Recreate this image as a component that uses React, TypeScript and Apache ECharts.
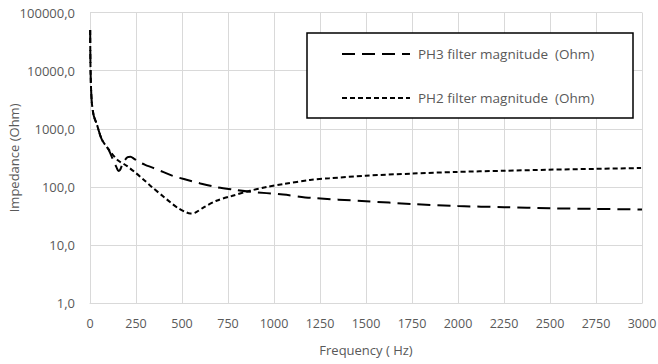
import React, { useEffect, useRef } from "react";
import * as echarts from "echarts";

const xTicks = [0, 250, 500, 750, 1000, 1250, 1500, 1750, 2000, 2250, 2500, 2750, 3000];
const yTicks = [1, 10, 100, 1000, 10000, 100000];

const ph3Name = "PH3 filter magnitude  (Ohm)";
const ph3Freq = [1, 3, 9, 20, 37, 64, 100, 115, 130, 145, 155, 163, 175, 190, 205, 220, 240, 270, 300, 340, 400, 450, 510, 600, 690, 780, 870, 1050, 1200, 1500, 1750, 2000, 2250, 2500, 2750, 3000];
const ph3Imp = [50000, 10000, 3100, 1700, 1200, 660, 447, 350, 270, 215, 188, 195, 240, 290, 325, 330, 305, 265, 240, 215, 180, 155, 137, 115, 99, 90, 83, 74, 65, 57, 51, 47, 45, 43, 42, 41];

const ph2Name = "PH2 filter magnitude  (Ohm)";
const ph2Freq = [1, 3, 9, 20, 37, 64, 100, 130, 155, 200, 245, 290, 336, 400, 435, 480, 520, 545, 570, 620, 687, 770, 870, 960, 1051, 1196, 1300, 1497, 1750, 1984, 2250, 2489, 2750, 2995];
const ph2Imp = [50000, 10000, 3100, 1700, 1200, 660, 447, 340, 282, 230, 178, 135, 100, 68, 55, 43, 37, 35, 36, 45, 58, 70, 86, 100, 112, 132, 141, 156, 170, 181, 190, 198, 205, 212];

const FONT = "'Open Sans', sans-serif";
const GRAY = "#595959";
const PH3_DASH = [13, 7];
const PH2_DASH = [5, 3];

export default function App() {
  const ref = useRef<HTMLDivElement>(null);
  useEffect(() => {
    if (!ref.current) return;
    const chart = echarts.init(ref.current, undefined, { renderer: "svg" });
    chart.setOption({
      animation: false,
      backgroundColor: "#fff",
      textStyle: { fontFamily: FONT },
      grid: {
        left: 90,
        right: 16,
        top: 12.5,
        bottom: 60.7,
        containLabel: false,
        outerBoundsMode: "none",
      },
      xAxis: {
        type: "value",
        min: xTicks[0],
        max: xTicks[xTicks.length - 1],
        interval: 250,
        name: "Frequency ( Hz)",
        nameLocation: "middle",
        nameGap: 40,
        nameMoveOverlap: false,
        nameTextStyle: { color: GRAY, fontSize: 13, fontFamily: FONT },
        axisLine: { show: true, lineStyle: { color: "#d9d9d9", width: 1 } },
        axisTick: { show: false },
        axisLabel: {
          color: GRAY,
          fontSize: 12.5,
          fontFamily: FONT,
          margin: 14,
          formatter: (v: number) => String(v),
        },
        splitLine: { show: true, lineStyle: { color: "#d9d9d9", width: 1 } },
      },
      yAxis: {
        type: "log",
        logBase: 10,
        min: yTicks[0],
        max: yTicks[yTicks.length - 1],
        name: "Impedance (Ohm)",
        nameLocation: "middle",
        nameGap: 70,
        nameMoveOverlap: false,
        nameTextStyle: { color: GRAY, fontSize: 13, fontFamily: FONT },
        axisLine: { show: true, lineStyle: { color: "#d9d9d9", width: 1 } },
        axisTick: { show: false },
        axisLabel: {
          color: GRAY,
          fontSize: 13,
          fontFamily: FONT,
          margin: 15,
          formatter: (v: number) => v.toFixed(1).replace(".", ","),
        },
        splitLine: { show: true, lineStyle: { color: "#d9d9d9", width: 1 } },
      },
      legend: {
        orient: "vertical",
        left: 345,
        top: 47,
        itemWidth: 68,
        itemHeight: 14,
        itemGap: 30,
        padding: 0,
        icon: "rect",
        itemStyle: { color: "rgba(0,0,0,0)", opacity: 0 },
        textStyle: { color: GRAY, fontSize: 13.5, fontFamily: FONT },
        data: [ph3Name, ph2Name],
        z: 5,
      },
      graphic: [
        {
          type: "rect",
          z: 4,
          shape: { x: 307, y: 33, width: 326, height: 85 },
          style: { fill: "#fff", stroke: "#000", lineWidth: 1.5 },
        },
        {
          type: "line",
          z: 6,
          shape: { x1: 342, y1: 54, x2: 410, y2: 54 },
          style: { stroke: "#000", lineWidth: 2, lineDash: PH3_DASH },
        },
        {
          type: "line",
          z: 6,
          shape: { x1: 342, y1: 98, x2: 410, y2: 98 },
          style: { stroke: "#000", lineWidth: 2, lineDash: PH2_DASH },
        },
      ],
      series: [
        {
          name: ph3Name,
          type: "line",
          data: ph3Freq.map((f, i) => [f, ph3Imp[i]]),
          showSymbol: false,
          symbol: "none",
          smooth: 0.3,
          lineStyle: { color: "#000", width: 2, type: PH3_DASH },
          itemStyle: { color: "#000" },
        },
        {
          name: ph2Name,
          type: "line",
          data: ph2Freq.map((f, i) => [f, ph2Imp[i]]),
          showSymbol: false,
          symbol: "none",
          smooth: 0.3,
          lineStyle: { color: "#000", width: 2, type: PH2_DASH },
          itemStyle: { color: "#000" },
        },
      ],
    });
    return () => chart.dispose();
  }, []);
  return (
    <div
      ref={ref}
      style={{ position: "fixed", left: 0, top: 0, width: 658, height: 364, background: "#fff" }}
    />
  );
}
